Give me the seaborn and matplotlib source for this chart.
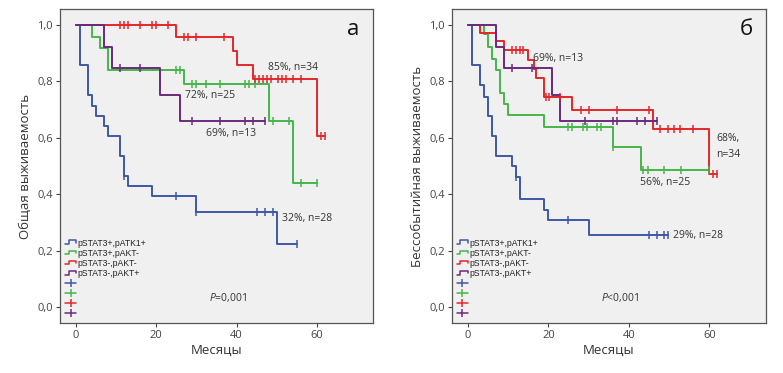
"""Kaplan-Meier curves: overall and event-free survival by pSTAT3 / pAKT status"""
import numpy as np
import pandas as pd
import matplotlib

matplotlib.use("Agg")
import matplotlib.pyplot as plt
from matplotlib.lines import Line2D
from matplotlib.legend_handler import HandlerBase
import seaborn as sns


groups = ["pSTAT3+,pATK1+", "pSTAT3+,pAKT-", "pSTAT3-,pAKT-", "pSTAT3-,pAKT+"]
colors = ["#3f58a6", "#46b54a", "#e3262b", "#6b2a7c"]

# ---- panel a: overall survival (event times, survival after event, censored times)
os_blue_t = [0, 1, 3, 4, 5, 7, 8, 11, 12, 13, 19, 30, 50]
os_blue_s = [1.0, 0.857, 0.75, 0.714, 0.679, 0.643, 0.607, 0.536, 0.464, 0.429, 0.393, 0.339, 0.226]
os_blue_c = [12, 25, 30, 45, 47, 49, 55]

os_green_t = [0, 4, 6, 8, 27, 48, 54]
os_green_s = [1.0, 0.958, 0.919, 0.84, 0.792, 0.66, 0.44]
os_green_c = [25, 26, 29, 30, 32.4, 36, 42, 43, 44.6, 49, 53.2, 56, 60]

os_red_t = [0, 25, 39, 40, 44, 60]
os_red_s = [1.0, 0.958, 0.907, 0.856, 0.807, 0.605]
os_red_c = [11, 12, 13, 16, 19, 20, 23, 27, 28, 30, 37, 44.6, 45.7, 46.7, 47.7,
            48.7, 50.4, 51.4, 52.3, 54.1, 56, 61, 62]

os_purple_t = [0, 7, 9, 21, 26]
os_purple_s = [1.0, 0.922, 0.846, 0.75, 0.658]
os_purple_c = [11, 16, 29, 36, 42, 44, 47]

# ---- panel б: event-free survival
efs_blue_t = [0, 1, 3, 4, 5, 6, 7, 11, 12, 13, 19, 20, 30]
efs_blue_s = [1.0, 0.857, 0.786, 0.746, 0.677, 0.605, 0.535, 0.5, 0.463, 0.385, 0.346, 0.308, 0.256]
efs_blue_c = [12, 25, 45, 47, 48.7, 49.8]

efs_green_t = [0, 4, 5, 6, 7, 8, 9, 10, 19, 36, 43]
efs_green_s = [1.0, 0.968, 0.92, 0.88, 0.84, 0.76, 0.72, 0.68, 0.64, 0.567, 0.487]
efs_green_c = [25, 26, 28.7, 29.7, 32, 33, 36, 43.6, 44.7, 48.7, 53, 60]

efs_red_t = [0, 3, 7, 9, 15, 16.5, 17, 19, 26, 46, 60]
efs_red_s = [1.0, 0.971, 0.941, 0.912, 0.877, 0.843, 0.81, 0.745, 0.70, 0.63, 0.472]
efs_red_c = [11, 12, 13, 13.8, 19.4, 20.2, 23, 28, 30, 37, 45, 47.8, 49.7, 51.1,
             52.7, 56, 61, 62]

efs_purple_t = [0, 7, 9, 21, 23]
efs_purple_s = [1.0, 0.923, 0.846, 0.75, 0.658]
efs_purple_c = [11, 16, 29, 36, 37, 42, 44, 47]

os_notes = [(54, 0.85, "85%, n=34"), (33.4, 0.749, "72%, n=25"),
            (38.6, 0.614, "69%, n=13"), (57.5, 0.314, "32%, n=28")]
efs_notes = [(22.5, 0.88, "69%, n=13"), (64.7, 0.57, "68%,\nn=34"),
             (49, 0.443, "56%, n=25"), (57.3, 0.256, "29%, n=28")]


class StepHandler(HandlerBase):
    """Little step glyph like the SPSS legend."""

    def create_artists(self, legend, orig, xd, yd, w, h, fontsize, trans):
        xs = [xd, xd + 0.3 * w, xd + 0.3 * w, xd + w, xd + w]
        ys = [0.2 * h - yd, 0.2 * h - yd, 0.85 * h - yd, 0.85 * h - yd, 0.5 * h - yd]
        ln = Line2D(xs, ys, color=orig.get_color(), lw=1.1, transform=trans)
        return [ln]


def km_frame(curves):
    rows = []
    for name, (t, s, c) in zip(groups, curves):
        end = max(max(c), t[-1])
        tt = list(t) + [end]
        ss = list(s) + [s[-1]]
        rows.append(pd.DataFrame({"t": tt, "s": ss, "group": name}))
    return pd.concat(rows, ignore_index=True)


def draw_panel(ax, curves, notes, ylabel, tag, ptext):
    df = km_frame(curves)
    sns.lineplot(data=df, x="t", y="s", hue="group", hue_order=groups,
                 palette=colors, drawstyle="steps-post", estimator=None,
                 sort=False, linewidth=1.4, legend=False, ax=ax)
    for (t, s, c), col in zip(curves, colors):
        idx = np.searchsorted(t, c, side="right") - 1
        ax.plot(c, np.array(s)[idx], linestyle="none", marker="|",
                markersize=6, mew=1.1, color=col)

    for x, y, txt in notes:
        ax.text(x, y, txt, ha="center", va="center", fontsize=7.5,
                color="#333333", linespacing=1.6)
    ax.text(37.8, 0.036, ptext, ha="center", va="center", fontsize=7.5, color="#333333")
    ax.text(69.2, 0.985, tag, ha="center", va="center", fontsize=16, color="#111111")

    ax.set_xlim(-4, 74)
    ax.set_ylim(-0.055, 1.056)
    ax.set_xticks([0, 20, 40, 60])
    ax.set_yticks([0, 0.2, 0.4, 0.6, 0.8, 1.0])
    ax.set_yticklabels(["0,0", "0,2", "0,4", "0,6", "0,8", "1,0"])
    ax.set_xlabel("Месяцы", fontsize=9.5, labelpad=2, color="#333333")
    ax.set_ylabel(ylabel, fontsize=9.5, labelpad=4, color="#333333")
    ax.tick_params(labelsize=8, length=3, width=0.8, color="#444444",
                   labelcolor="#444444", pad=2)
    ax.set_facecolor("#f0f0f0")
    for sp in ax.spines.values():
        sp.set_visible(True)
        sp.set_color("#555555")
        sp.set_linewidth(0.9)

    handles = [Line2D([], [], color=col) for col in colors]
    handles += [Line2D([], [], color=col, marker="|", markersize=6, mew=1.1, lw=1.1)
                for col in colors]
    labels = groups + [""] * 4
    hmap = {h: StepHandler() for h in handles[:4]}
    leg = ax.legend(handles, labels, handler_map=hmap, loc="lower left",
                    bbox_to_anchor=(0.0, 0.0), frameon=False,
                    handlelength=1.3, handletextpad=0.1, labelspacing=0.12,
                    borderaxespad=0.2, numpoints=1,
                    prop={"family": "Liberation Sans", "size": 6.2})
    for txt in leg.get_texts():
        txt.set_color("#222222")


sns.set_style("ticks")
plt.rcParams["font.family"] = ["Open Sans", "DejaVu Sans"]
plt.rcParams["mathtext.fontset"] = "custom"
plt.rcParams["mathtext.it"] = "Open Sans:italic"
plt.rcParams["mathtext.rm"] = "Open Sans"

fig = plt.figure(figsize=(7.83, 3.73), dpi=100)
ax1 = fig.add_axes([0.0766, 0.134, 0.3997, 0.842])
ax2 = fig.add_axes([0.5769, 0.134, 0.401, 0.842])

os_curves = [(os_blue_t, os_blue_s, os_blue_c), (os_green_t, os_green_s, os_green_c),
             (os_red_t, os_red_s, os_red_c), (os_purple_t, os_purple_s, os_purple_c)]
efs_curves = [(efs_blue_t, efs_blue_s, efs_blue_c), (efs_green_t, efs_green_s, efs_green_c),
              (efs_red_t, efs_red_s, efs_red_c), (efs_purple_t, efs_purple_s, efs_purple_c)]

draw_panel(ax1, os_curves, os_notes, "Общая выживаемость", "а", r"$\it{P}$=0,001")
draw_panel(ax2, efs_curves, efs_notes, "Бессобытийная выживаемость", "б", r"$\it{P}$<0,001")

fig.savefig("out.png", dpi=100)
